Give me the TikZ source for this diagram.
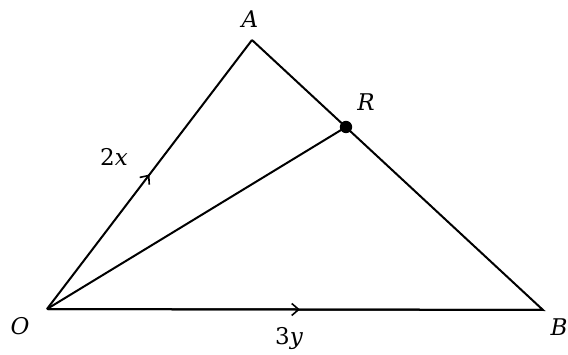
\documentclass[tikz,border=0pt]{standalone}
\usepackage{fontspec}
\setmainfont{DejaVu Serif}
\usetikzlibrary{arrows.meta,decorations.markings}
\begin{document}
\begin{tikzpicture}[x=1pt,y=-1pt,
  edge/.style={line width=2pt,line join=miter},
  midarrow/.style={postaction={decorate},decoration={markings,
    mark=at position #1 with {\arrow{Straight Barb[length=7pt,width=12pt,line width=1.6pt]}}}},
  lbl/.style={font=\fontsize{23}{26}\selectfont,inner sep=0pt}]
\useasboundingbox (0,0) rectangle (568,355);
\coordinate (O) at (47,309);
\coordinate (A) at (252,40);
\coordinate (B) at (543,310);
\coordinate (R) at (346,127);
\draw[edge] (A) -- (B) -- (O);
\draw[edge,midarrow=0.5] (O) -- (A);
\draw[edge,midarrow=0.51] (O) -- (B);
\draw[edge] (O) -- (R);
\fill (R) circle (6.2);
\node[lbl] (lA) at (250,19) {\itshape A};
\node[lbl] (lR) at (366,102) {\itshape R};
\node[lbl] (lO) at (20,326) {\itshape O};
\node[lbl] (lB) at (559,327) {\itshape B};
\node[lbl] (l2x) at (114,157) {2\itshape x};
\node[lbl] (l3y) at (289,339) {3\itshape y};
\end{tikzpicture}
\end{document}
